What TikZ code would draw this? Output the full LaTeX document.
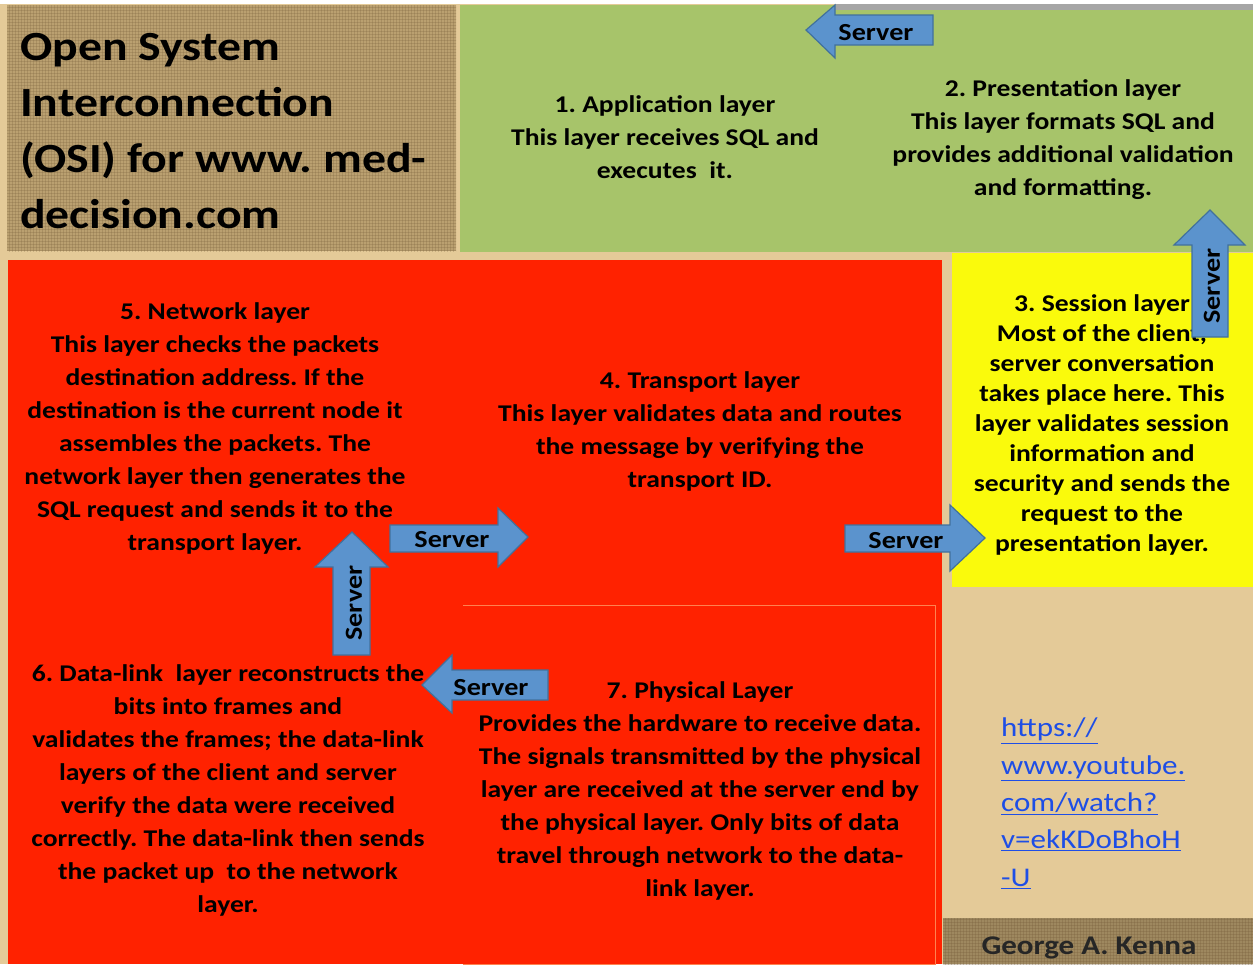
\documentclass[tikz,border=0pt]{standalone}
\usepackage{fontspec}
\setmainfont{Carlito}[FakeStretch=1.15]
\frenchspacing
\usetikzlibrary{patterns}
\definecolor{tanbg}{RGB}{228,202,152}
\definecolor{burlap}{RGB}{186,160,112}
\definecolor{burlapdark}{RGB}{120,96,60}
\definecolor{leaf}{RGB}{167,196,106}
\definecolor{hotred}{RGB}{255,34,0}
\definecolor{lemon}{RGB}{250,250,12}
\definecolor{arrowfill}{RGB}{91,147,205}
\definecolor{arrowline}{RGB}{65,113,156}
\definecolor{linkblue}{RGB}{30,78,230}
\definecolor{edgeorange}{RGB}{255,130,80}
\tikzset{
  body/.style={align=center,font=\fontsize{24}{33}\selectfont\bfseries,inner sep=0pt},
  blockarrow/.style={fill=arrowfill,draw=arrowline,line width=1.2pt,line join=miter},
  arrowtext/.style={font=\fontsize{24.5}{26}\selectfont\bfseries,inner sep=0pt},
  weave/.style={pattern=grid,pattern color=burlapdark}
}
\begin{document}
\begin{tikzpicture}[x=1pt,y=-1pt]
\useasboundingbox (0,0) rectangle (1253,964);
% background
\fill[tanbg] (0,0) rectangle (1253,964);
\fill[white] (0,0) rectangle (1253,4);
% title box
\fill[burlap] (7,5) rectangle (456,251);
\fill[weave,opacity=0.25] (7,5) rectangle (456,251);
% green box
\fill[leaf] (460,5) rectangle (1253,252);
\fill[gray!70] (835,4) rectangle (1253,10);
% red box
\fill[hotred] (8,260) rectangle (942,964);
% yellow box
\fill[lemon] (952,253) rectangle (1253,587);
% physical inner box
\draw[edgeorange,line width=1pt,fill=hotred] (463,605) -- (935,605) -- (935,964) -- (463,964);
% bottom strip
\fill[burlap!85!black] (943,918) rectangle (1253,964);
\fill[weave,opacity=0.3] (943,918) rectangle (1253,964);

% title
\node[anchor=north west,align=left,inner sep=0pt,font=\fontsize{41.5}{56}\selectfont\bfseries] (title) at (20,33)
  {Open System\\Interconnection\\(OSI) for www. med-\\decision.com};

% layers
\node[body] (app) at (665,137) {1. Application layer\\This layer receives SQL and\\executes\ \ it.};
\node[body] (pres) at (1063,140) {2. Presentation layer\\This layer formats SQL and\\provides additional validation\\and formatting.};
\node[body,font=\fontsize{24}{30}\selectfont\bfseries] (sess) at (1102,425) {3. Session layer\\Most of the client,\\server conversation\\takes place here. This\\layer validates session\\information and\\security and sends the\\request to the\\presentation layer.};
\node[body] (trans) at (700,431) {4. Transport layer\\This layer validates data and routes\\the message by verifying the\\transport ID.};
\node[body] (net) at (215,428) {5. Network layer\\This layer checks the packets\\destination address. If the\\destination is the current node it\\assembles the packets. The\\network layer then generates the\\SQL request and sends it to the\\transport layer.};
\node[body] (link) at (228,790) {6. Data-link\ \ layer reconstructs the\\bits into frames and\\validates the frames; the data-link\\layers of the client and server\\verify the data were received\\correctly. The data-link then sends\\the packet up\ \ to the network\\layer.};
\node[body] (phys) at (700,791) {7. Physical Layer\\Provides the hardware to receive data.\\The signals transmitted by the physical\\layer are received at the server end by\\the physical layer. Only bits of data\\travel through network to the data-\\link layer.};

% url
\node[anchor=north west,align=left,inner sep=0pt,text=linkblue,font=\fontsize{27}{37.3}\selectfont] (url) at (1001,718)
  {\underline{https://}\\\underline{www.youtube.}\\\underline{com/watch?}\\\underline{v=ekKDoBhoH}\\\underline{-U}};
\node[font=\fontsize{27}{30}\selectfont\bfseries,text=black!85,inner sep=0pt] (author) at (1089,948) {George A. Kenna};

% arrows
\draw[blockarrow] (806,30) -- (835,5) -- (835,15) -- (933,15) -- (933,45) -- (835,45) -- (835,58) -- cycle;
\node[arrowtext] (a1) at (876,33) {Server};
\draw[blockarrow] (1210,210) -- (1245,245) -- (1228,245) -- (1228,337) -- (1192,337) -- (1192,245) -- (1174,245) -- cycle;
\node[arrowtext,rotate=90] (a2) at (1212,286) {Server};
\draw[blockarrow] (845,525) -- (950,525) -- (950,505) -- (985,538) -- (950,571) -- (950,552) -- (845,552) -- cycle;
\node[arrowtext] (a3) at (906,541) {Server};
\draw[blockarrow] (390,525) -- (498,525) -- (498,508) -- (528,537) -- (498,567) -- (498,552) -- (390,552) -- cycle;
\node[arrowtext] (a4) at (452,540) {Server};
\draw[blockarrow] (352,532) -- (388,567) -- (370,567) -- (370,655) -- (333,655) -- (333,567) -- (315,567) -- cycle;
\node[arrowtext,rotate=90] (a5) at (354,603) {Server};
\draw[blockarrow] (422,685) -- (452,655) -- (452,670) -- (548,670) -- (548,700) -- (452,700) -- (452,713) -- cycle;
\node[arrowtext] (a6) at (491,688) {Server};
\end{tikzpicture}
\end{document}
